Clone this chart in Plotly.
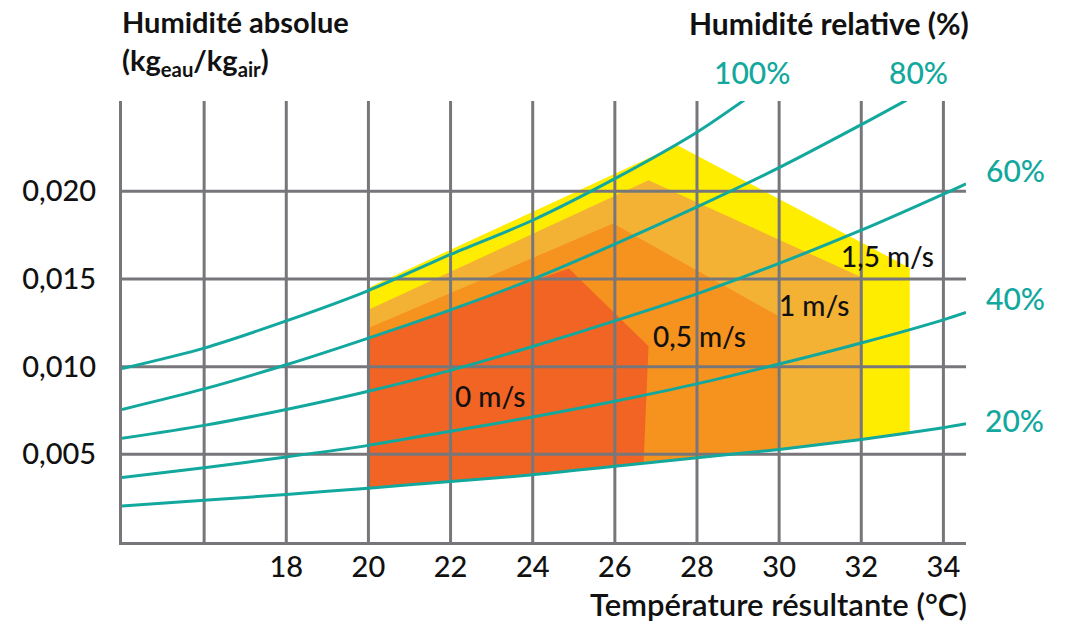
import plotly.graph_objects as go
import numpy as np

# ---------------- data ----------------
# relative humidity curves (absolute humidity kg/kg)
rh_labels = ["100%", "80%", "60%", "40%", "20%"]
rh100_x = [14, 16, 18, 20, 22, 24, 26, 28, 29.15]
rh100_y = [0.00989, 0.01106, 0.01261, 0.01434, 0.01640, 0.01835, 0.02072, 0.02337, 0.0252]
rh80_x = [14, 16, 18, 20, 22, 24, 26, 28, 30, 32, 33.1]
rh80_y = [0.00756, 0.00873, 0.01011, 0.01163, 0.01324, 0.01499, 0.01699, 0.01911, 0.02135, 0.02380, 0.0252]
rh60_x = [14, 16, 18, 20, 22, 24, 26, 28, 30, 32, 34, 34.55]
rh60_y = [0.00591, 0.00665, 0.00756, 0.00860, 0.00979, 0.01115, 0.01261, 0.01415, 0.01589, 0.01778, 0.01984, 0.02043]
rh40_x = [14, 16, 18, 20, 22, 24, 26, 28, 30, 32, 34, 34.55]
rh40_y = [0.00368, 0.00424, 0.00485, 0.00551, 0.00632, 0.00713, 0.00803, 0.00902, 0.01015, 0.01135, 0.01267, 0.01309]
rh20_x = [14, 16, 18, 20, 22, 24, 26, 28, 30, 32, 34, 34.55]
rh20_y = [0.00206, 0.00238, 0.00271, 0.00307, 0.00345, 0.00383, 0.00432, 0.00481, 0.00528, 0.00585, 0.00652, 0.00674]

# comfort zones (upper outline vertices; lower edge follows the 20% curve)
zone_names = ["1,5 m/s", "1 m/s", "0,5 m/s", "0 m/s"]
zone15_x = [20, 27.51, 33.18, 33.18]
zone15_y = [0.01450, 0.02264, 0.01563, None]
zone10_x = [20, 26.82, 31.98, 31.98]
zone10_y = [0.01324, 0.02063, 0.01513, None]
zone05_x = [20, 25.96, 29.97, 29.97]
zone05_y = [0.01220, 0.01816, 0.01290, None]
zone00_x = [20, 24.88, 26.82, 26.70]
zone00_y = [0.01163, 0.01560, 0.01116, None]

zone_label_x = [32.65, 30.86, 28.05, 22.97]
zone_label_y = [0.01632, 0.01352, 0.01176, 0.00834]

grid_x = [16, 18, 20, 22, 24, 26, 28, 30, 32, 34]
x_tick_vals = [18, 20, 22, 24, 26, 28, 30, 32, 34]
x_tick_text = ["18", "20", "22", "24", "26", "28", "30", "32", "34"]
y_tick_vals = [0.005, 0.010, 0.015, 0.020]
y_tick_text = ["0,005", "0,010", "0,015", "0,020"]

# ---------------- styling ----------------
X_MIN, X_MAX = 14, 34.55
Y_MIN, Y_MAX = 0, 0.02515
TEAL = "#12A89D"
GRID = "#77777B"
TXT = "#111111"
zone_colors = ["#FFED00", "#F3B234", "#F6921E", "#F26424"]
FONT = "Lato"

OFF = 8  # page body margin
W, H = 1061, 614
L, R, T, B = 113.5, 958, 93, 534.2


def px(rx):
    return (rx - OFF - L) / (R - L)


def py(ry):
    return (B - (ry - OFF)) / (B - T)


fig = go.Figure()

# comfort zones
zones = [(zone15_x, zone15_y), (zone10_x, zone10_y), (zone05_x, zone05_y), (zone00_x, zone00_y)]
for (zx, zy), col, name in zip(zones, zone_colors, zone_names):
    xr = zx[-1]
    bottom_y = float(np.interp(xr, rh20_x, rh20_y))
    ys = [v if v is not None else bottom_y for v in zy]
    bx = [v for v in rh20_x if zx[0] < v < xr][::-1]
    by = [float(np.interp(v, rh20_x, rh20_y)) for v in bx]
    left_bottom = float(np.interp(zx[0], rh20_x, rh20_y))
    fx = list(zx) + bx + [zx[0], zx[0]]
    fy = ys + by + [left_bottom, ys[0]]
    fig.add_trace(go.Scatter(x=fx, y=fy, mode="lines", fill="toself", fillcolor=col,
                             line=dict(width=0, color=col), hoverinfo="skip",
                             showlegend=False, name=name))

# grid drawn above the zones
gx, gy = [], []
for v in grid_x:
    gx += [v, v, None]
    gy += [Y_MIN, Y_MAX, None]
for v in y_tick_vals:
    gx += [X_MIN, X_MAX, None]
    gy += [v, v, None]
fig.add_trace(go.Scatter(x=gx, y=gy, mode="lines", line=dict(color=GRID, width=3),
                         hoverinfo="skip", showlegend=False))

# relative humidity curves
for cx, cy, lab in [(rh100_x, rh100_y, "100%"), (rh80_x, rh80_y, "80%"), (rh60_x, rh60_y, "60%"),
                    (rh40_x, rh40_y, "40%"), (rh20_x, rh20_y, "20%")]:
    fig.add_trace(go.Scatter(x=cx, y=cy, mode="lines",
                             line=dict(color=TEAL, width=3, shape="spline", smoothing=0.8),
                             showlegend=False, name=lab))

annotations = []
for lab, lx, ly in zip(zone_names, zone_label_x, zone_label_y):
    annotations.append(dict(x=lx, y=ly, xref="x", yref="y", text=lab, showarrow=False,
                            font=dict(family=FONT, size=28, color=TXT, weight=500)))

rh_label_pos = [(752, 72), (918, 72), (1016, 170), (1016, 298), (1015, 420)]
for lab, (lx, ly) in zip(rh_labels, rh_label_pos):
    annotations.append(dict(x=px(lx), y=py(ly), xref="paper", yref="paper", text=lab, showarrow=False,
                            xanchor="center", yanchor="middle",
                            font=dict(family=FONT, size=30, color=TEAL, weight=500)))

annotations.append(dict(x=px(119), y=py(42), xref="paper", yref="paper",
                        text="Humidité absolue<br>(kg<sub>eau</sub>/kg<sub>air</sub>)",
                        showarrow=False, xanchor="left", yanchor="middle", align="left",
                        font=dict(family=FONT, size=29, color=TXT, weight=700)))
annotations.append(dict(x=px(971), y=py(23), xref="paper", yref="paper",
                        text="Humidité relative (%)", showarrow=False, xanchor="right", yanchor="middle",
                        font=dict(family=FONT, size=30, color=TXT, weight=700)))
annotations.append(dict(x=px(969), y=py(604), xref="paper", yref="paper",
                        text="Température résultante (°C)", showarrow=False, xanchor="right", yanchor="middle",
                        font=dict(family=FONT, size=31, color=TXT, weight=600)))

fig.update_layout(
    width=W, height=H,
    margin=dict(l=L, r=W - R, t=T, b=H - B),
    paper_bgcolor="white", plot_bgcolor="white",
    showlegend=False,
    annotations=annotations,
    xaxis=dict(range=[X_MIN, X_MAX], tickvals=x_tick_vals, ticktext=x_tick_text, showgrid=False,
               zeroline=False, showline=True, linecolor=GRID, linewidth=3, ticks="",
               ticklabelstandoff=-3,
               tickfont=dict(family=FONT, size=29, color=TXT, weight=500)),
    yaxis=dict(range=[Y_MIN, Y_MAX], tickvals=y_tick_vals, ticktext=y_tick_text, showgrid=False,
               zeroline=False, showline=True, linecolor=GRID, linewidth=3, ticks="",
               ticklabelstandoff=17,
               tickfont=dict(family=FONT, size=29, color=TXT, weight=500)),
)

fig.write_html("out.html")
